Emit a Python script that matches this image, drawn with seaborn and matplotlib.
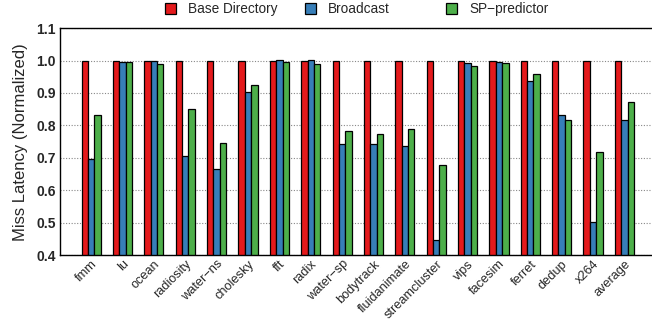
import numpy as np
import pandas as pd
import matplotlib
matplotlib.use("Agg")
import matplotlib.pyplot as plt
import seaborn as sns

benchmarks = ["fmm", "lu", "ocean", "radiosity", "water\u2212ns", "cholesky", "fft", "radix",
              "water\u2212sp", "bodytrack", "fluidanimate", "streamcluster", "vips", "facesim",
              "ferret", "dedup", "x264", "average"]
schemes = ["Base Directory", "Broadcast", "SP\u2212predictor"]

base_dir = [1.0] * 18
broadcast = [0.698, 0.996, 1.0, 0.705, 0.666, 0.904, 1.003, 1.003, 0.743, 0.743,
             0.737, 0.446, 0.991, 0.997, 0.936, 0.831, 0.503, 0.818]
sp_pred = [0.832, 0.994, 0.989, 0.851, 0.746, 0.924, 0.996, 0.990, 0.784, 0.772,
           0.789, 0.679, 0.982, 0.993, 0.960, 0.818, 0.717, 0.873]

colors = ["#e41a1c", "#377eb8", "#4daf4a"]

df = pd.DataFrame({
    "bench": benchmarks * 3,
    "scheme": [schemes[0]] * 18 + [schemes[1]] * 18 + [schemes[2]] * 18,
    "value": base_dir + broadcast + sp_pred,
})

sns.set_style("white")
plt.rcParams["font.family"] = ["Liberation Sans", "DejaVu Sans"]

fig = plt.figure(figsize=(6.52, 3.23), dpi=100)
ax = fig.add_axes([0.092, 0.21, 0.908, 0.703])

sns.barplot(data=df, x="bench", y="value", hue="scheme", palette=colors, saturation=1,
            width=0.61, edgecolor="black", linewidth=0.9, ax=ax, legend=True)

ax.set_ylim(0.4, 1.1)
ax.set_xlim(-0.995, 17.88)
ax.set_yticks(np.arange(0.4, 1.11, 0.1))
ax.set_yticklabels([f"{v:.1f}" for v in np.arange(0.4, 1.11, 0.1)],
                   fontsize=10, fontweight="bold")
ax.set_xticks(range(len(benchmarks)))
ax.set_xticklabels(benchmarks, rotation=45, ha="right", va="top",
                   rotation_mode="anchor", fontsize=9.2)
ax.tick_params(axis="y", length=0, pad=3)
ax.tick_params(axis="x", length=0, pad=2)
ax.set_xlabel("")
ax.set_ylabel("Miss Latency (Normalized)", fontsize=12, labelpad=6)
ax.yaxis.grid(True, linestyle=(0, (1, 1.5)), color="#888888", linewidth=0.8)
ax.set_axisbelow(True)
for s in ["left", "top", "bottom"]:
    ax.spines[s].set_color("black")
    ax.spines[s].set_linewidth(1.0)
ax.spines["right"].set_visible(False)

# one legend entry per column, spaced evenly like the original
handles, labels = ax.get_legend_handles_labels()
ax.get_legend().remove()
for h, lab, x0 in zip(handles, labels, [165, 305, 446]):
    fig.legend([h], [lab], loc="center left", bbox_to_anchor=(x0 / 652, 0.972),
               frameon=False, fontsize=9.8, handlelength=0.8, handleheight=0.8,
               handletextpad=0.9, borderpad=0, borderaxespad=0)

fig.savefig("out.png", dpi=100)
